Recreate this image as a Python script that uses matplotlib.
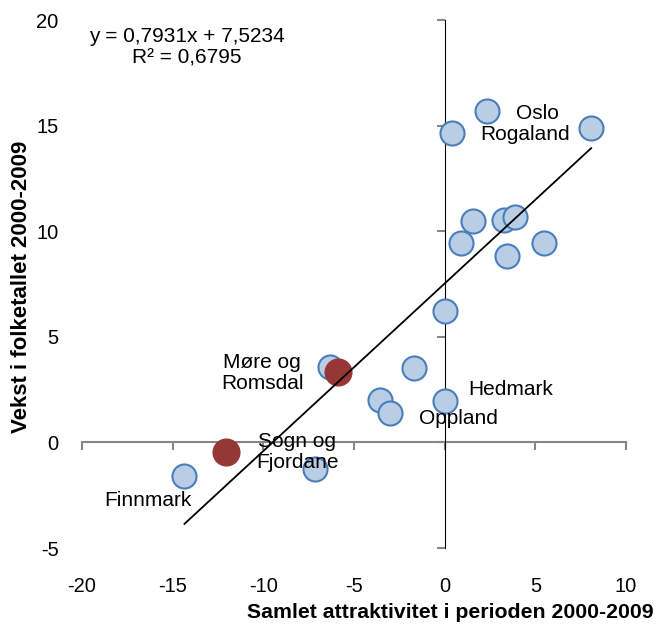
import matplotlib
matplotlib.use("Agg")
import matplotlib.pyplot as plt

plt.rcParams['font.family'] = ['Liberation Sans', 'DejaVu Sans']

# fylker (blå)
blaa_x = [2.33, 0.40, 8.08, 1.55, 3.27, 3.89, 0.91, 5.47, 3.45, 0.00,
          -1.68, 0.03, -3.56, -3.00, -6.30, -14.35, -7.14]
blaa_y = [15.70, 14.67, 14.88, 10.48, 10.54, 10.65, 9.46, 9.46, 8.81, 6.23,
          3.53, 1.95, 1.99, 1.40, 3.55, -1.59, -1.28]

# fremhevede fylker (røde)
roed_x = [-5.86, -12.07]
roed_y = [3.35, -0.44]

# trendlinje (fra Excel)
stigning = 0.7931
konstant = 7.5234
r2 = 0.6795

etiketter = ["Oslo", "Rogaland", "Hedmark", "Oppland", "Møre og\nRomsdal",
             "Sogn og\nFjordane", "Finnmark"]
etikett_x = [5.12, 4.42, 3.65, 0.76, -10.07, -8.14, -16.36]
etikett_y = [15.59, 14.60, 2.50, 1.13, 3.30, -0.47, -2.77]

x_ticks = [-20, -15, -10, -5, 0, 5, 10]
y_ticks = [-5, 0, 5, 10, 15, 20]

fig = plt.figure(figsize=(6.56, 6.25), dpi=100)
ax = fig.add_axes([82 / 656, 1 - 548 / 625, 544 / 656, 528 / 625])
ax.set_xlim(-20, 10)
ax.set_ylim(-5, 20)

for s in ax.spines.values():
    s.set_visible(False)
ax.set_xticks(x_ticks)
ax.set_yticks(y_ticks)
ax.tick_params(length=0, labelsize=14.5, colors='black')
ax.tick_params(axis='x', pad=21)
ax.tick_params(axis='y', pad=17)
ax.set_xticklabels([str(t) for t in x_ticks])
ax.set_yticklabels([str(t) for t in y_ticks])

# akser som krysser i origo
grey = '#868686'
sx = ax.secondary_xaxis(5 / 25)
sx.set_xticks(x_ticks)
sx.tick_params(direction='out', length=6, width=1.5, color=grey, labelbottom=False, labeltop=False)
sx.spines['bottom'].set_color(grey)
sx.spines['bottom'].set_linewidth(1.5)
sx.xaxis.set_ticks_position('bottom')
sx.set_xticklabels([])

sy = ax.secondary_yaxis(20 / 30)
sy.set_yticks(y_ticks)
sy.tick_params(direction='out', length=6, width=1.5, color=grey, labelleft=False, labelright=False)
sy.spines['left'].set_color(grey)
sy.spines['left'].set_linewidth(1.5)
sy.yaxis.set_ticks_position('left')
sy.set_yticklabels([])

ax.scatter(blaa_x, blaa_y, s=300, facecolor='#b9cde5', edgecolor='#4a7ebb',
           linewidth=1.5, zorder=3)
ax.scatter(roed_x, roed_y, s=370, facecolor='#953735', edgecolor='#953735',
           linewidth=1.0, zorder=4)

alle_x = blaa_x + roed_x
x0, x1 = min(alle_x), max(alle_x)
ax.plot([x0, x1], [stigning * x0 + konstant, stigning * x1 + konstant],
        color='black', linewidth=1.3, zorder=5)

for t, x, y in zip(etiketter, etikett_x, etikett_y):
    ax.text(x, y, t, ha='center', va='center', fontsize=15, zorder=6,
            linespacing=1.15)

likning = f"y = {stigning:.4f}x + {konstant:.4f}".replace('.', ',')
r2_tekst = f"R² = {r2:.4f}".replace('.', ',')
ax.text(-14.2, 18.7, likning + "\n" + r2_tekst, ha='center', va='center',
        fontsize=15, linespacing=1.2)

fig.text(450 / 656, 1 - 612 / 625, "Samlet attraktivitet i perioden 2000-2009",
         ha='center', va='center', fontsize=15.3, fontweight='bold')
fig.text(22 / 656, 1 - 287 / 625, "Vekst i folketallet 2000-2009",
         ha='center', va='center', fontsize=16, fontweight='bold', rotation=90)

fig.savefig("out.png", dpi=100)
